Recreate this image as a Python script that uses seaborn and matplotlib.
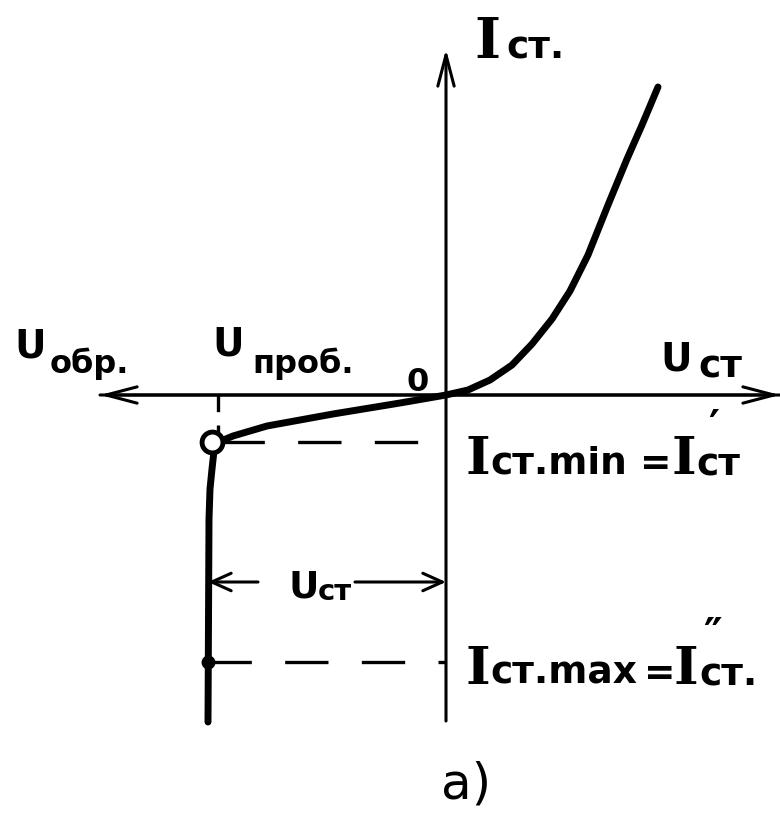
import numpy as np
import pandas as pd
import seaborn as sns
import matplotlib.pyplot as plt

# Zener diode I-V characteristic (schematic units)
u_forward = [21.2, 19.6, 18.1, 16.2, 14.2, 12.4, 10.6, 8.6, 6.6, 4.4, 2.2, 0.0]
i_forward = [30.8, 27.0, 23.6, 19.0, 14.0, 10.4, 7.6, 5.1, 3.0, 1.5, 0.5, 0.0]
u_reverse = [-4.6, -11.3, -17.9, -21.3, -22.5, -23.4, -23.2, -23.4, -23.6, -23.7, -23.8]
i_reverse = [-0.8, -1.9, -3.1, -4.1, -4.6, -4.7, -5.6, -7.4, -9.4, -12.4, -32.7]

u_breakdown = -22.8      # U_проб.
i_st_min = -4.7          # I_ст.min
i_st_max = -26.7         # I_ст.max
u_st = -23.8             # left edge of the stabilisation span

curve = pd.DataFrame({
    "U": u_forward + u_reverse,
    "I": i_forward + i_reverse,
    "order": range(len(u_forward) + len(u_reverse)),
})

sns.set_theme(style="white")
plt.rcParams["font.family"] = ["DejaVu Sans"]

fig = plt.figure(figsize=(7.8, 8.2), dpi=100)
ax = fig.add_axes([0, 0, 1, 1])
ax.set_xlim(-44.6, 33.4)
ax.set_ylim(-42.4, 39.6)
ax.axis("off")

ink = "black"


def px(x, y):
    """Layout helper: figure pixel position -> data coordinates."""
    return (x - 446) / 10.0, (396 - y) / 10.0


arrow_kw = dict(arrowstyle="->,head_length=1.6,head_width=0.42", lw=2.2,
                color=ink, mutation_scale=14, shrinkA=0, shrinkB=0)

# axes with arrowheads
ax.annotate("", xy=(-34.6, 0), xytext=(33.4, 0), arrowprops=arrow_kw)
ax.annotate("", xy=(33.4, 0), xytext=(-34.6, 0), arrowprops=arrow_kw)
ax.annotate("", xy=(0, 34.6), xytext=(0, -32.6), arrowprops=arrow_kw)

# characteristic curve
sns.lineplot(data=curve, x="U", y="I", sort=False, estimator=None,
             color=ink, lw=5, ax=ax, legend=False,
             solid_capstyle="round", solid_joinstyle="round")

# dashed guides
dash = dict(color=ink, lw=2.4, dashes=(13, 10))
ax.plot([u_reverse[5] + 0.9, 0], [i_st_min, i_st_min], **dash)
ax.plot([u_st, 0], [i_st_max, i_st_max], **dash)
ax.plot([u_breakdown, u_breakdown], [0, i_st_min + 0.9], color=ink, lw=2.4,
        dashes=(5, 4))

# working-range marks
ax.plot([u_reverse[5]], [i_st_min], marker="o", ms=15, mfc="white",
        mec=ink, mew=3.5)
ax.plot([u_st], [i_st_max], marker="o", ms=9, color=ink)

# U_ст span arrows
span_kw = dict(arrowstyle="->,head_length=1.0,head_width=0.45", lw=2.2,
               color=ink, mutation_scale=14, shrinkA=0, shrinkB=0)
y_span = px(0, 583)[1]
ax.annotate("", xy=(u_st, y_span), xytext=(px(258, 0)[0], y_span), arrowprops=span_kw)
ax.annotate("", xy=(0, y_span), xytext=(px(355, 0)[0], y_span), arrowprops=span_kw)

serif = dict(family=["DejaVu Serif"], fontweight="bold", color=ink)
sans = dict(family=["DejaVu Sans"], fontweight="bold", color=ink)
plain = dict(family=["DejaVu Sans"], fontweight="normal", color=ink)


def put(x, y, s, size, style):
    ax.text(*px(x, y), s, fontsize=size, va="baseline", ha="left", **style)


# I_ст. (vertical axis)
put(474, 58, "I", 40, serif)
put(506, 58, "ст.", 27, sans)

# U_обр.
put(14, 358, "U", 28, sans)
put(50, 373, "обр.", 23, sans)

# U_проб.
put(212, 356, "U", 28, sans)
put(252, 373, "проб.", 23, sans)

# origin
put(406, 391, "0", 23, sans)

# U_ст (horizontal axis)
put(660, 371, "U", 28, sans)
put(698, 378, "ст", 27, sans)

# I_ст.min = I'_ст
put(465, 474, "I", 38, serif)
put(490, 474, "ст.min", 27, sans)
put(640, 474, "=", 27, sans)
put(672, 474, "I", 38, serif)
put(696, 476, "ст", 27, sans)
put(708, 440, "\u2032", 30, sans)

# I_ст.max = I''_ст.
put(465, 684, "I", 38, serif)
put(490, 684, "ст.max", 27, sans)
put(644, 684, "=", 27, sans)
put(674, 684, "I", 38, serif)
put(699, 686, "ст.", 27, sans)
put(703, 648, "\u2033", 30, sans)

# U_ст span label
put(288, 598, "U", 27, sans)
put(318, 600, "ст", 21, sans)

# figure tag
put(441, 799, "а)", 36, plain)

fig.savefig("out.png", dpi=100, facecolor="white")
